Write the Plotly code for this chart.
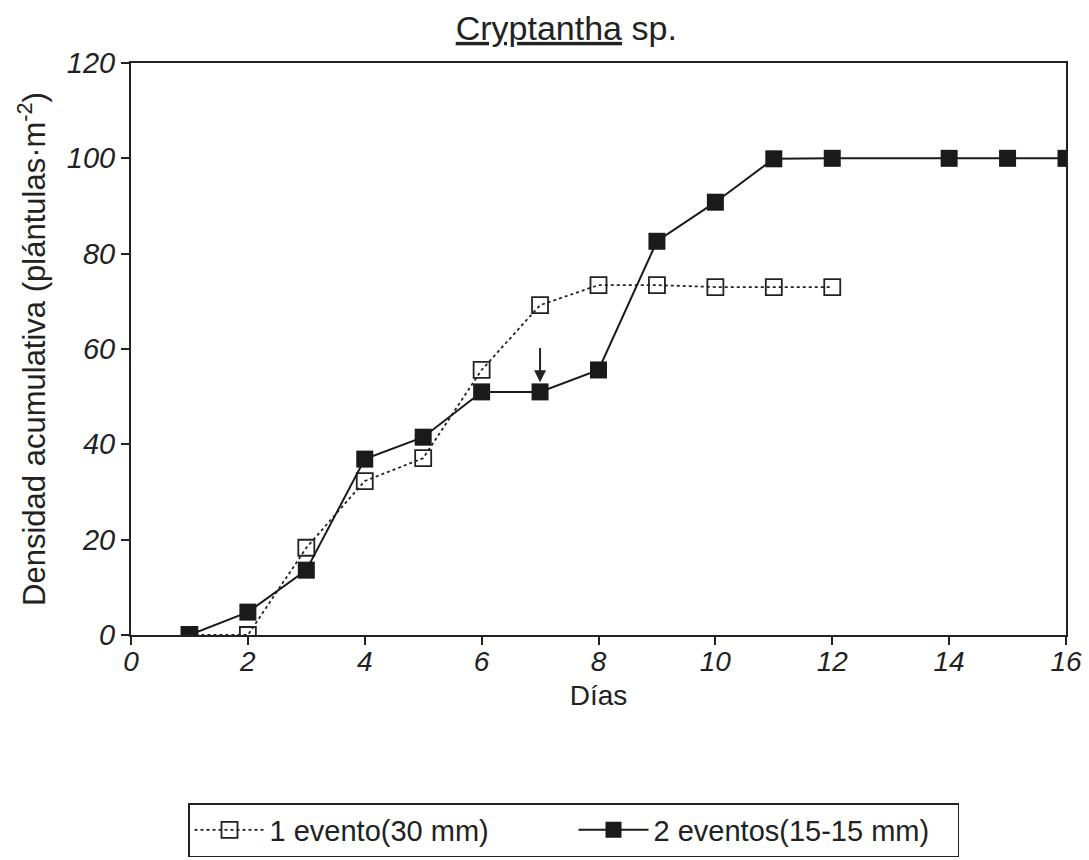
import plotly.graph_objects as go

dias_1 = [1, 2, 3, 4, 5, 6, 7, 8, 9, 10, 11, 12]
dens_1 = [0, 0, 18.3, 32.3, 37.1, 55.6, 69.2, 73.4, 73.4, 73.0, 73.0, 73.0]

dias_2 = [1, 2, 3, 4, 5, 6, 7, 8, 9, 10, 11, 12, 14, 15, 16]
dens_2 = [0, 4.8, 13.6, 36.9, 41.5, 51.0, 51.0, 55.6, 82.6, 90.8, 99.9, 100, 100, 100, 100]

x_ticks = [0, 2, 4, 6, 8, 10, 12, 14, 16]
y_ticks = [0, 20, 40, 60, 80, 100, 120]

FONT = "Liberation Sans, Arial, sans-serif"

fig = go.Figure()
fig.add_trace(go.Scatter(
    x=dias_1, y=dens_1, mode="lines+markers", name="1 evento(30 mm)",
    line=dict(color="#222", width=1.8, dash="dot"),
    marker=dict(symbol="square-open", size=16, color="#222", line=dict(width=1.8)),
))
fig.add_trace(go.Scatter(
    x=dias_2, y=dens_2, mode="lines+markers", name="2 eventos(15-15 mm)",
    line=dict(color="#1a1a1a", width=2),
    marker=dict(symbol="square", size=17, color="#1a1a1a"),
))

fig.add_annotation(x=7, y=53.0, ax=7, ay=60.5, xref="x", yref="y", axref="x", ayref="y",
                   text="", showarrow=True, arrowhead=2, arrowsize=1.2, arrowwidth=2,
                   arrowcolor="#222")

fig.update_layout(
    width=1089, height=860,
    paper_bgcolor="white", plot_bgcolor="white",
    margin=dict(l=131, r=23, t=63, b=225, autoexpand=False),
    font=dict(family=FONT, size=28, color="#222"),
    title=dict(text="<u>Cryptantha</u> sp.", x=0.52, xanchor="center", xref="container",
               y=1 - 28 / 860, yanchor="middle", yref="container",
               font=dict(size=34, family=FONT)),
    showlegend=True,
    legend=dict(orientation="h", xref="container", yref="container",
                x=188 / 1089, xanchor="left", y=1 - 803 / 860, yanchor="top",
                bordercolor="#222", borderwidth=1.5, font=dict(size=29, family=FONT),
                entrywidth=299, itemwidth=70, bgcolor="white"),
)
fig.update_xaxes(
    range=[0, 16], tickvals=x_ticks, ticktext=[f"<i>{v}</i>" for v in x_ticks],
    showgrid=False, zeroline=False, showline=True, linecolor="#222", linewidth=2,
    mirror=True, ticks="outside", ticklen=8, tickwidth=1.5, tickcolor="#222",
    ticklabelstandoff=-8,
    title=dict(text="Días", standoff=10, font=dict(size=28)),
    tickfont=dict(size=28),
)
fig.update_yaxes(
    range=[0, 120], tickvals=y_ticks, ticktext=[f"<i>{v}</i>" for v in y_ticks],
    showgrid=False, zeroline=False, showline=True, linecolor="#222", linewidth=2,
    mirror=True, ticks="outside", ticklen=8, tickwidth=1.5, tickcolor="#222",
    title=dict(text="Densidad acumulativa (plántulas·m<sup>-2</sup>)", standoff=12, font=dict(size=31)),
    tickfont=dict(size=29),
)

fig.write_html("out.html")
